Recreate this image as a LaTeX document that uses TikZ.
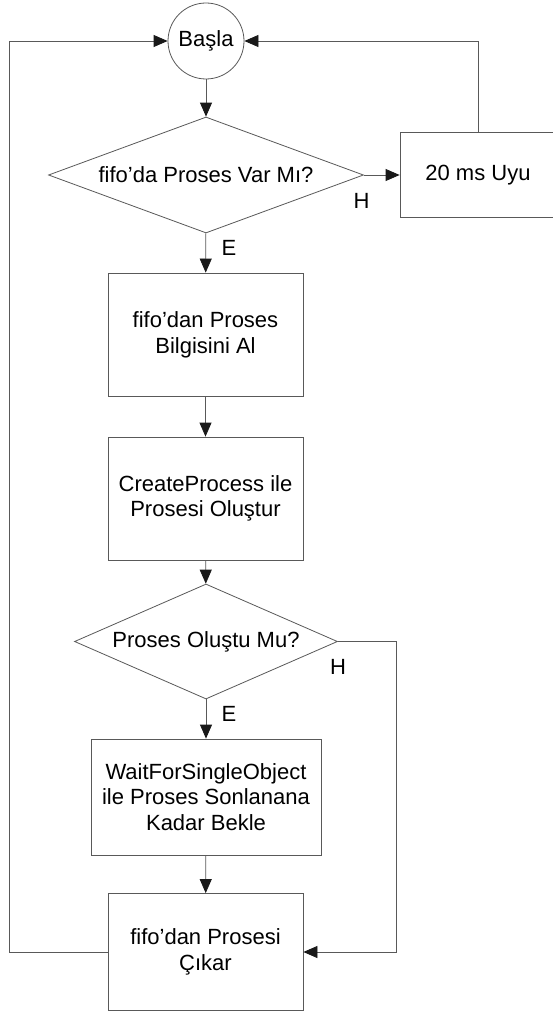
\documentclass[tikz,border=0pt]{standalone}
\usepackage{fontspec}
\setmainfont{Liberation Sans}
\usetikzlibrary{shapes.geometric,arrows.meta}

\begin{document}
\begin{tikzpicture}
            [x=1pt,y=-1pt,
             Start/.style={circle,draw=black!65,line width=0.8pt,minimum size=76pt,inner sep=0pt,font=\fontsize{22}{25.7}\selectfont},
             Box/.style={rectangle,draw=black!65,line width=0.8pt,minimum width=195pt,minimum height=123pt,inner sep=0pt,align=center,font=\fontsize{22}{25.7}\selectfont},
             Decision/.style={diamond,draw=black!65,line width=0.8pt,inner sep=0pt,aspect=2.5,font=\fontsize{22}{25.7}\selectfont},
             Tag/.style={inner sep=0pt,font=\fontsize{22}{25.7}\selectfont},
             Arrow/.style={draw=black!65,line width=0.8pt,-{Triangle[length=14pt,width=12pt,color=black!90]}}];
            \useasboundingbox (0,0) rectangle (553,1014);
            \clip (0,0) rectangle (553,1014);
            \fill[white] (0,0) rectangle (553,1014);
            \node[Start] (start) at (206,41){Başla};
            \node[Decision,minimum width=315pt,minimum height=116pt] (varmi) at (206,175){fifo’da Proses Var Mı?};
            \node[Box,minimum width=156pt,minimum height=85pt] (uyu) at (478,175){20 ms Uyu};
            \node[Box] (bilgi) at (205.5,334.5){fifo’dan Proses\\Bilgisini Al};
            \node[Box] (olustur) at (205.5,498.5){CreateProcess ile\\Prosesi Oluştur};
            \node[Decision,minimum width=263pt,minimum height=115pt] (olustumu) at (206,641.5){Proses Oluştu Mu?};
            \node[Box,minimum width=230pt,minimum height=116pt] (bekle) at (206,797){WaitForSingleObject\\ile Proses Sonlanana\\Kadar Bekle};
            \node[Box,minimum height=117pt] (cikar) at (205.5,952){fifo’dan Prosesi\\Çıkar};
            \node[Tag] (h1) at (361.5,201){H};
            \node[Tag] (e1) at (229,248){E};
            \node[Tag] (h2) at (338,667){H};
            \node[Tag] (e2) at (229,714){E};
            \coordinate (sag) at (396,641.5);
            \coordinate (sol) at (9,952);
            \draw[Arrow](start) to (varmi);
            \draw[Arrow](varmi) to (uyu);
            \draw[Arrow](uyu.north) |- (start.east);
            \draw[Arrow](varmi) to (bilgi);
            \draw[Arrow](bilgi) to (olustur);
            \draw[Arrow](olustur) to (olustumu);
            \draw[Arrow](olustumu) to (bekle);
            \draw[Arrow](bekle) to (cikar);
            \draw[Arrow](olustumu.east) -- (sag) |- (cikar.east);
            \draw[Arrow](cikar.west) -- (sol) |- (start.west);
        \end{tikzpicture}
\end{document}
